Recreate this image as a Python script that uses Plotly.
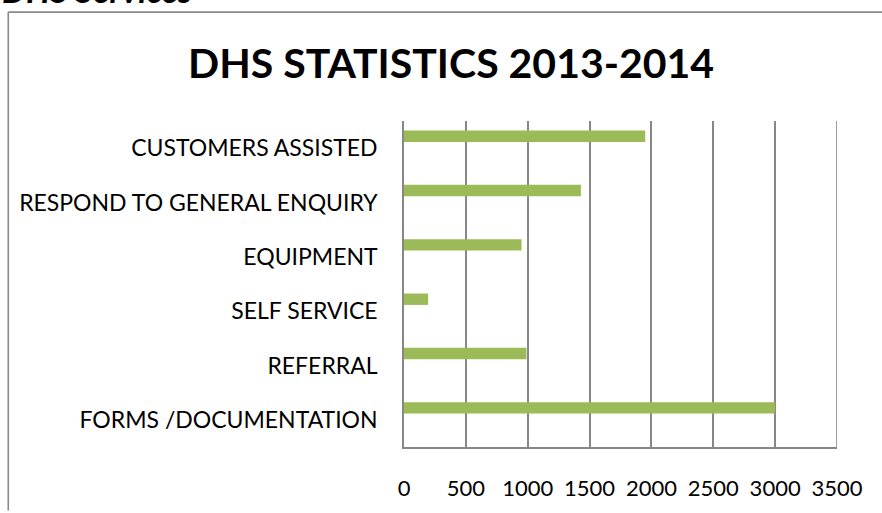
import plotly.graph_objects as go

# Service categories, listed bottom to top as drawn
categories = [
    "FORMS /DOCUMENTATION",
    "REFERRAL",
    "SELF SERVICE",
    "EQUIPMENT",
    "RESPOND TO GENERAL ENQUIRY",
    "CUSTOMERS ASSISTED",
]
counts = [3000, 990, 195, 950, 1430, 1950]
x_ticks = [0, 500, 1000, 1500, 2000, 2500, 3000, 3500]

W, H = 882, 513
PLOT_L, PLOT_R, PLOT_T, PLOT_B = 404, 837.3, 121, 453.3
FONT = "Lato"
GRID = "#878787"


def px_x(px):
    return (px - PLOT_L) / (PLOT_R - PLOT_L)


def px_y(py):
    return (PLOT_B - py) / (PLOT_B - PLOT_T)


fig = go.Figure(
    go.Bar(
        y=categories,
        x=counts,
        orientation="h",
        marker=dict(color="#9BBB59", line=dict(width=0)),
        width=0.21,
        offset=0.115,
        hoverinfo="x+y",
    )
)

fig.update_layout(
    width=W,
    height=H,
    margin=dict(l=PLOT_L, r=W - PLOT_R, t=PLOT_T, b=H - PLOT_B, pad=0),
    paper_bgcolor="white",
    plot_bgcolor="white",
    showlegend=False,
    font=dict(family=FONT, color="#000000", size=22),
    xaxis=dict(
        range=[0, 3500],
        tickvals=x_ticks,
        ticktext=[str(v) for v in x_ticks],
        showgrid=True,
        gridcolor=GRID,
        gridwidth=1.6,
        zeroline=False,
        showline=True,
        linecolor=GRID,
        linewidth=1.6,
        ticks="outside",
        ticklen=21,
        tickcolor="rgba(0,0,0,0)",
        tickfont=dict(family=FONT, size=22, color="#000"),
        fixedrange=True,
    ),
    yaxis=dict(
        type="category",
        categoryorder="array",
        categoryarray=categories,
        range=[-0.5, 5.5],
        showgrid=False,
        zeroline=False,
        showline=True,
        linecolor=GRID,
        linewidth=1.6,
        ticks="outside",
        ticklen=20,
        tickcolor="rgba(0,0,0,0)",
        tickfont=dict(family=FONT, size=23, color="#000"),
        fixedrange=True,
    ),
)

# Chart frame (left and top edges)
fig.add_shape(type="line", xref="paper", yref="paper",
              x0=px_x(8), x1=px_x(8), y0=px_y(10), y1=px_y(H + 5),
              line=dict(color="#8a8a8a", width=1.6))
fig.add_shape(type="line", xref="paper", yref="paper",
              x0=px_x(8), x1=px_x(W + 5), y0=px_y(10), y1=px_y(10),
              line=dict(color="#8a8a8a", width=1.6))

# Right-hand gridline at 3500
fig.add_shape(type="line", xref="x", yref="paper",
              x0=3500, x1=3500, y0=0, y1=1,
              line=dict(color=GRID, width=1.6))

# Title
fig.add_annotation(
    text="<b>DHS STATISTICS 2013-2014</b>",
    xref="paper", yref="paper",
    x=px_x(451), y=px_y(61),
    xanchor="center", yanchor="middle",
    showarrow=False,
    font=dict(family=FONT, size=41, color="#000"),
)

# Section heading above the frame
fig.add_annotation(
    text="<b><i>DHS Services</i></b>",
    xref="paper", yref="paper",
    x=px_x(0), y=px_y(-13),
    xanchor="left", yanchor="middle",
    showarrow=False,
    font=dict(family=FONT, size=34, color="#000"),
)

fig.write_html("out.html")
